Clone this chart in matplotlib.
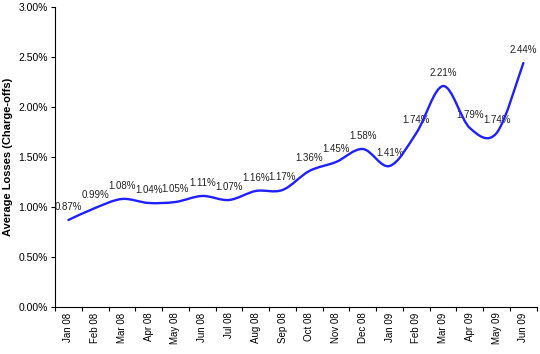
import matplotlib.pyplot as plt
import numpy as np
from matplotlib.path import Path
from matplotlib.patches import PathPatch
from matplotlib.ticker import FixedLocator, FuncFormatter

months = ["Jan 08", "Feb 08", "Mar 08", "Apr 08", "May 08", "Jun 08",
          "Jul 08", "Aug 08", "Sep 08", "Oct 08", "Nov 08", "Dec 08",
          "Jan 09", "Feb 09", "Mar 09", "Apr 09", "May 09", "Jun 09"]
losses = [0.87, 0.99, 1.08, 1.04, 1.05, 1.11, 1.07, 1.16, 1.17,
          1.36, 1.45, 1.58, 1.41, 1.74, 2.21, 1.79, 1.74, 2.44]

plt.rcParams['font.family'] = ['Liberation Sans', 'DejaVu Sans']

fig = plt.figure(figsize=(5.4, 3.54), dpi=100)
ax = fig.add_axes([0.102, 0.133, 0.892, 0.847])

# --------------------------
# smoothed line (Excel style bezier through the points)
# --------------------------
x = np.arange(len(losses))
y = np.array(losses)
verts = [(x[0], y[0])]
codes = [Path.MOVETO]
n = len(y)
for i in range(n - 1):
    p0 = max(i - 1, 0)
    p3 = min(i + 2, n - 1)
    c1 = (x[i] + (x[i + 1] - x[p0]) / 6, y[i] + (y[i + 1] - y[p0]) / 6)
    c2 = (x[i + 1] - (x[p3] - x[i]) / 6, y[i + 1] - (y[p3] - y[i]) / 6)
    verts += [c1, c2, (x[i + 1], y[i + 1])]
    codes += [Path.CURVE4] * 3
patch = PathPatch(Path(verts, codes), facecolor='none', edgecolor='#1f1fff',
                  lw=1.7, capstyle='round', joinstyle='round', zorder=5)
ax.add_patch(patch)

# data labels
for i, v in enumerate(losses):
    ax.annotate(f"{v:.2f}%", (i, v), xytext=(0, 13), textcoords='offset pixels',
                ha='center', va='center', fontsize=7, color='#222222', zorder=3)

# --------------------------
# axes
# --------------------------
ax.set_xlim(-0.5, len(months) - 0.5)
ax.set_ylim(0, 3.0)
ax.set_yticks(np.arange(0, 3.01, 0.5))
ax.yaxis.set_major_formatter(FuncFormatter(lambda v, p: f"{v:.2f}%"))

ax.xaxis.set_major_locator(FixedLocator(np.arange(-0.5, len(months), 1)))
ax.xaxis.set_major_formatter(FuncFormatter(lambda v, p: ""))
ax.xaxis.set_minor_locator(FixedLocator(x))
ax.set_xticklabels(months, minor=True, rotation=90)
ax.tick_params(axis='x', which='minor', length=0, labelsize=7, pad=4)
ax.tick_params(axis='x', which='major', length=3, direction='out')
ax.tick_params(axis='y', length=3, direction='out', labelsize=7.5, pad=2)

ax.spines['top'].set_visible(False)
ax.spines['right'].set_visible(False)
ax.set_ylabel("Average Losses (Charge-offs)", fontsize=8, fontweight='bold')

plt.savefig("out.png", dpi=100)
